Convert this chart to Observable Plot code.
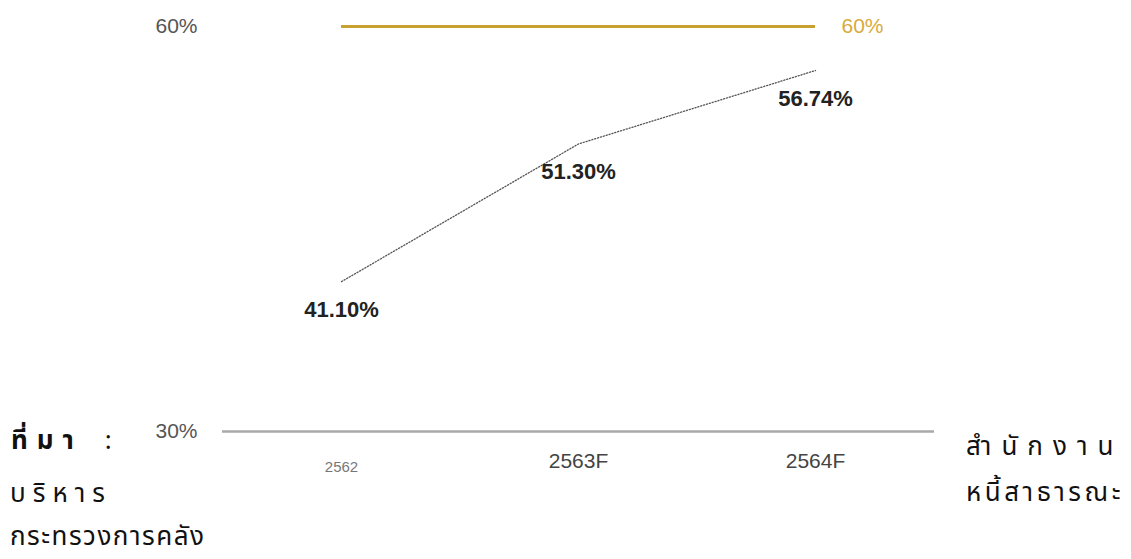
<!DOCTYPE html>
<html>
<head>
<meta charset="utf-8">
<script src="https://cdn.jsdelivr.net/npm/d3@7"></script>
<script src="https://cdn.jsdelivr.net/npm/@observablehq/plot@0.6"></script>
<style>
  html, body { margin: 0; padding: 0; background: #fff; }
  #wrap { position: relative; width: 1131px; height: 559px; }
  #chart { position: absolute; left: 0; top: 0; }
  .th { position: absolute; font-family: "Noto Sans Thai", "Noto Sans", sans-serif; font-size: 26px; color: #111; white-space: nowrap; line-height: 1; }
</style>
</head>
<body>
<div id="wrap">
  <div id="chart"></div>
  <div class="th" style="left:11px; top:428px; font-weight:bold; letter-spacing:9px;">ที่มา<span style="font-weight:normal; margin-left:22px;">:</span></div>
  <div class="th" style="left:966px; top:434px; letter-spacing:10px;">สำนักงาน</div>
  <div class="th" style="left:10px; top:481px; letter-spacing:7px;">บริหาร</div>
  <div class="th" style="left:966px; top:480px; letter-spacing:3.5px;">หนี้สาธารณะ</div>
  <div class="th" style="left:10px; top:524px; letter-spacing:1.5px;">กระทรวงการคลัง</div>
</div>
<script>
// Data
const years = ["2562", "2563F", "2564F"];
const debtRatio = [41.10, 51.30, 56.74];      // public debt to GDP (%)
const ceiling = 60;                            // fiscal ceiling (%)
const yTicks = [30, 60];

const rows = years.map((y, i) => ({year: y, value: debtRatio[i]}));

const gold = "#c9a130";
const goldText = "#d8aa3c";

const plot = Plot.plot({
  width: 1131,
  height: 485,
  marginTop: 26,
  marginBottom: 54,
  marginLeft: 222,
  marginRight: 197,
  style: {fontFamily: "'Liberation Sans', Arial, sans-serif", background: "transparent"},
  x: {type: "point", domain: years, padding: 0.5, label: null},
  y: {domain: [30, 60], label: null},
  marks: [
    Plot.ruleY([30], {stroke: "#a9a9a9", strokeWidth: 2.5}),
    Plot.ruleY([ceiling], {y: d => d, x1: () => years[0], x2: () => years[years.length - 1], stroke: gold, strokeWidth: 3}),
    Plot.text([ceiling], {x: () => years[years.length - 1], y: d => d, text: d => d + "%", dx: 47, fill: goldText, fontSize: 21}),
    Plot.line(rows, {x: "year", y: "value", stroke: "#555", strokeWidth: 1.3, strokeDasharray: "1.2,1.8"}),
    Plot.text(rows, {x: "year", y: "value", text: d => d.value.toFixed(2) + "%", dy: 28, fontSize: 22, fontWeight: "bold", fill: "#222"}),
    Plot.axisY({ticks: yTicks, tickFormat: d => d + "%", tickSize: 0, tickPadding: 25, fontSize: 21, color: "#555", label: null}),
    Plot.axisX({ticks: [years[0]], tickSize: 0, tickPadding: 30, fontSize: 15, color: "#777", label: null}),
    Plot.axisX({ticks: years.slice(1), tickSize: 0, tickPadding: 22, fontSize: 21, color: "#444", label: null})
  ]
});
document.getElementById("chart").appendChild(plot);
</script>
</body>
</html>
